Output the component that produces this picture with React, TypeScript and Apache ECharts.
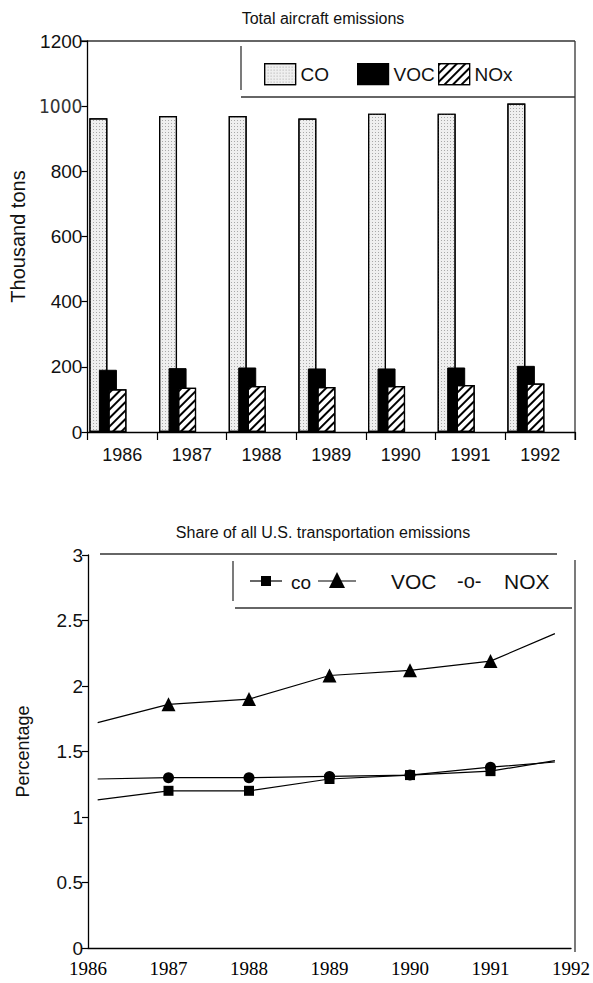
import React, { useEffect, useRef } from "react";
import * as echarts from "echarts";

// ---- Data: top chart (thousand tons) ----
const years = ["1986", "1987", "1988", "1989", "1990", "1991", "1992"];
const coTons = [963, 970, 970, 962, 977, 977, 1008];
const vocTons = [191, 196, 198, 195, 195, 198, 203];
const noxTons = [131, 136, 141, 138, 141, 144, 149];
const tonTicks = [0, 200, 400, 600, 800, 1000, 1200];

// ---- Data: bottom chart (percentage share) ----
const shareX = [1986.12, 1987, 1988, 1989, 1990, 1991, 1991.8];
const coShare = [1.13, 1.2, 1.2, 1.29, 1.32, 1.35, 1.43];
const vocShare = [1.72, 1.86, 1.9, 2.08, 2.12, 2.19, 2.4];
const noxShare = [1.29, 1.3, 1.3, 1.31, 1.32, 1.38, 1.42];

const SANS = "'Liberation Sans', Arial, Helvetica, sans-serif";
const SERIF = "'Liberation Serif', 'Times New Roman', serif";

function lineData(xs: number[], ys: number[]) {
  return xs.map((x, i) => {
    const markerless = i === 0 || i === xs.length - 1;
    return markerless ? { value: [x, ys[i]], symbol: "none" } : { value: [x, ys[i]] };
  });
}

export default function App() {
  const ref = useRef<HTMLDivElement>(null);
  useEffect(() => {
    if (!ref.current) return;
    const chart = echarts.init(ref.current, undefined, { renderer: "svg" });
    const BW = 18;
    const GAP = "-47%";
    const barCommon = {
      type: "bar",
      xAxisIndex: 0,
      yAxisIndex: 0,
      barWidth: BW,
      barGap: GAP,
      silent: true,
    };
    const spacer = (name: string) => ({
      ...barCommon,
      name,
      data: years.map(() => 0),
      itemStyle: { color: "rgba(0,0,0,0)" },
    });
    const lineCommon = {
      type: "line",
      xAxisIndex: 1,
      yAxisIndex: 1,
      lineStyle: { color: "#000", width: 1.2 },
      itemStyle: { color: "#000" },
      silent: true,
    };
    const frame = { stroke: "#333", lineWidth: 1.3 };
    const legendBase = {
      top: 58,
      icon: "rect",
      itemWidth: 31,
      itemHeight: 21,
      itemGap: 8,
      selectedMode: false,
      textStyle: { fontFamily: SANS, fontSize: 19, color: "#111" },
      itemStyle: { borderColor: "#000", borderWidth: 1.2 },
    };
    chart.setOption({
      animation: false,
      backgroundColor: "#fff",
      title: [
        {
          text: "Total aircraft emissions",
          left: 318,
          top: 5,
          textAlign: "center",
          textStyle: { fontFamily: SANS, fontSize: 16, fontWeight: "normal", color: "#111" },
        },
        {
          text: "Share of all U.S. transportation emissions",
          left: 318,
          top: 519,
          textAlign: "center",
          textStyle: { fontFamily: SANS, fontSize: 16, fontWeight: "normal", color: "#111" },
        },
      ],
      legend: [
        { ...legendBase, data: ["CO"], left: 259 },
        { ...legendBase, data: ["VOC"], left: 352 },
        { ...legendBase, data: ["NOx"], left: 433 },
      ],
      grid: [
        { left: 86, top: 41, width: 489, height: 391 },
        { left: 88, top: 555, width: 487, height: 393 },
      ],
      xAxis: [
        {
          type: "category",
          gridIndex: 0,
          data: years,
          boundaryGap: true,
          axisLine: { lineStyle: { color: "#000", width: 1.3 } },
          axisTick: { show: true, length: 8, lineStyle: { color: "#000", width: 1.2 } },
          axisLabel: { fontFamily: SANS, fontSize: 18, color: "#111", margin: 14 },
        },
        {
          type: "value",
          gridIndex: 1,
          min: 1986,
          max: 1992,
          interval: 1,
          axisLine: { show: true, onZero: false, lineStyle: { color: "#000", width: 1.3 } },
          axisTick: { show: false },
          splitLine: { show: false },
          axisLabel: {
            fontFamily: SERIF,
            fontSize: 19,
            color: "#000",
            margin: 11,
            formatter: (v: number) => String(v),
          },
        },
      ],
      yAxis: [
        {
          type: "value",
          gridIndex: 0,
          min: 0,
          max: 1200,
          interval: 200,
          name: "Thousand tons",
          nameLocation: "middle",
          nameGap: 57,
          nameRotate: 90,
          nameTextStyle: { fontFamily: SANS, fontSize: 20, color: "#111" },
          axisLine: { show: true, lineStyle: { color: "#000", width: 1.3 } },
          axisTick: { show: true, length: 6, lineStyle: { color: "#000", width: 1.2 } },
          splitLine: { show: false },
          axisLabel: {
            fontFamily: SANS,
            fontSize: 19,
            color: "#111",
            margin: 5,
            formatter: (v: number) =>
              v === tonTicks[5] ? "{thin|" + v + "}" : String(v),
            rich: {
              thin: {
                fontFamily: "'Liberation Sans Narrow', 'DejaVu Sans Condensed', " + SANS,
                fontSize: 19,
                color: "#333",
              },
            },
          },
        },
        {
          type: "value",
          gridIndex: 1,
          min: 0,
          max: 3,
          interval: 0.5,
          name: "Percentage",
          nameLocation: "middle",
          nameGap: 56,
          nameRotate: 90,
          nameTextStyle: { fontFamily: SANS, fontSize: 18, color: "#111" },
          axisLine: { show: true, lineStyle: { color: "#000", width: 1.3 } },
          axisTick: { show: true, length: 6, lineStyle: { color: "#000", width: 1.2 } },
          splitLine: { show: false },
          axisLabel: { fontFamily: SANS, fontSize: 19, color: "#111", margin: 5 },
        },
      ],
      series: [
        {
          ...barCommon,
          name: "CO",
          data: coTons,
          itemStyle: {
            color: "#efefef",
            borderColor: "#000",
            borderWidth: 1.2,
            decal: {
              symbol: "rect",
              symbolSize: 1,
              dashArrayX: [1, 2],
              dashArrayY: [1, 2],
              color: "#a8a8a8",
            },
          },
        },
        {
          ...barCommon,
          name: "VOC",
          data: vocTons,
          itemStyle: { color: "#000", borderColor: "#000", borderWidth: 1 },
        },
        {
          ...barCommon,
          name: "NOx",
          data: noxTons,
          itemStyle: {
            color: "#fff",
            borderColor: "#000",
            borderWidth: 1.2,
            decal: {
              symbol: "rect",
              symbolSize: 1,
              dashArrayX: [1, 0],
              dashArrayY: [2, 4],
              rotation: -Math.PI / 4,
              color: "#000",
            },
          },
        },
        spacer("_s1"),
        spacer("_s2"),
        spacer("_s3"),
        {
          ...lineCommon,
          name: "co",
          symbol: "rect",
          symbolSize: 10,
          data: lineData(shareX, coShare),
        },
        {
          ...lineCommon,
          name: "VOC share",
          symbol: "triangle",
          symbolSize: 14,
          data: lineData(shareX, vocShare),
        },
        {
          ...lineCommon,
          name: "NOX",
          symbol: "circle",
          symbolSize: 11,
          data: lineData(shareX, noxShare),
        },
      ],
      graphic: [
        // top chart frame and legend box
        { type: "line", shape: { x1: 80, y1: 41, x2: 575, y2: 41 }, style: frame, silent: true },
        { type: "line", shape: { x1: 575, y1: 41, x2: 575, y2: 440 }, style: frame, silent: true },
        { type: "line", shape: { x1: 241, y1: 46, x2: 241, y2: 90 }, style: frame, silent: true },
        { type: "line", shape: { x1: 241, y1: 97, x2: 575, y2: 97 }, style: frame, silent: true },
        // bottom chart frame and legend box
        { type: "line", shape: { x1: 100, y1: 554, x2: 557, y2: 554 }, style: frame, silent: true },
        { type: "line", shape: { x1: 575, y1: 560, x2: 575, y2: 952 }, style: frame, silent: true },
        { type: "line", shape: { x1: 233, y1: 561, x2: 233, y2: 601 }, style: frame, silent: true },
        { type: "line", shape: { x1: 235, y1: 608, x2: 572, y2: 608 }, style: frame, silent: true },
        // bottom legend entries
        { type: "line", shape: { x1: 250, y1: 581, x2: 282, y2: 581 }, style: { stroke: "#000", lineWidth: 1.2 }, silent: true },
        { type: "rect", shape: { x: 261, y: 576, width: 10, height: 10 }, style: { fill: "#000" }, silent: true },
        {
          type: "text",
          x: 291,
          y: 582,
          style: { text: "co", fontFamily: SANS, fontSize: 19, fill: "#111", verticalAlign: "middle" },
          silent: true,
        },
        { type: "line", shape: { x1: 318, y1: 581, x2: 356, y2: 581 }, style: { stroke: "#000", lineWidth: 1.2 }, silent: true },
        {
          type: "polygon",
          shape: { points: [[337, 572], [329, 588], [345, 588]] },
          style: { fill: "#000" },
          silent: true,
        },
        {
          type: "text",
          x: 391,
          y: 581,
          style: { text: "VOC", fontFamily: SANS, fontSize: 21, fill: "#111", verticalAlign: "middle" },
          silent: true,
        },
        {
          type: "text",
          x: 457,
          y: 581,
          style: { text: "-o-", fontFamily: SANS, fontSize: 20, fill: "#111", verticalAlign: "middle" },
          silent: true,
        },
        {
          type: "text",
          x: 504,
          y: 581,
          style: { text: "NOX", fontFamily: SANS, fontSize: 21, fill: "#111", verticalAlign: "middle" },
          silent: true,
        },
      ],
    });
    return () => chart.dispose();
  }, []);
  return (
    <div
      ref={ref}
      style={{ position: "absolute", left: 0, top: 0, width: 593, height: 983, background: "#fff" }}
    />
  );
}
